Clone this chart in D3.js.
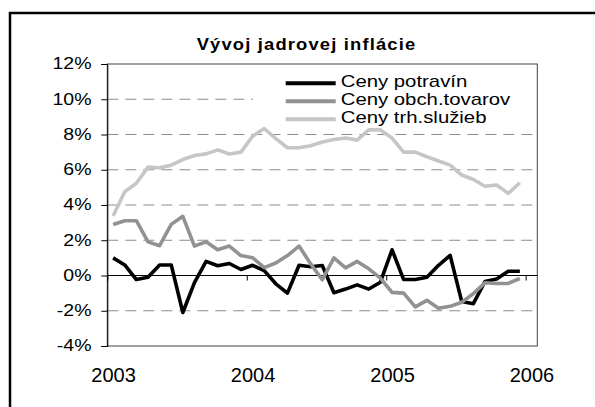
<!DOCTYPE html>
<html><head><meta charset="utf-8">
<script src="https://cdn.jsdelivr.net/npm/d3@7"></script>
<style>
html,body{margin:0;padding:0;background:#fff;}
svg{display:block;font-family:Arial,"Liberation Sans",sans-serif;}
</style></head>
<body><svg id="c" width="595" height="407"></svg>
<script>
const title = "Vývoj jadrovej inflácie";
const years = ["2003","2004","2005","2006"];
const seriesNames = ["Ceny potravín","Ceny obch.tovarov","Ceny trh.služieb"];
const yTicks = [-4,-2,0,2,4,6,8,10,12];
const food = [1.0,0.6,-0.23,-0.1,0.6,0.6,-2.1,-0.4,0.8,0.55,0.68,0.34,
  0.58,0.28,-0.47,-1.0,0.58,0.5,0.57,-0.98,-0.77,-0.53,-0.77,-0.38,
  1.46,-0.23,-0.23,-0.1,0.58,1.14,-1.48,-1.6,-0.34,-0.2,0.24,0.24];
const goods = [2.89,3.11,3.11,1.91,1.69,2.9,3.36,1.67,1.91,1.46,1.67,1.13,
  1.01,0.45,0.71,1.13,1.67,0.66,-0.24,1.0,0.43,0.8,0.38,-0.15,
  -0.96,-1.0,-1.78,-1.41,-1.86,-1.75,-1.52,-1.03,-0.41,-0.45,-0.45,-0.17];
const services = [3.38,4.75,5.23,6.15,6.11,6.26,6.58,6.81,6.9,7.13,6.89,7.0,
  7.9,8.34,7.77,7.25,7.25,7.36,7.57,7.72,7.8,7.68,8.26,8.26,
  7.8,7.0,7.0,6.74,6.5,6.26,5.7,5.45,5.06,5.13,4.66,5.26];
const colors = ["#000000","#929292","#c6c6c6"];

const svg = d3.select("#c");
const L = 107.3, R = 537.3, T = 64, B = 346;
const nCat = 37;
const x = d3.scaleLinear().domain([0, nCat]).range([L, R]);
const y = d3.scaleLinear().domain([-4, 12]).range([B, T]);

// outer frame
svg.append("rect").attr("x",10).attr("y",13).attr("width",620).attr("height",440)
  .attr("fill","none").attr("stroke","#000").attr("stroke-width",2.5);

// title
svg.append("text").attr("transform","translate(306.5,50) scale(1.15,1)")
  .attr("text-anchor","middle").attr("font-weight","bold").attr("font-size",16)
  .attr("letter-spacing",1).text(title);

// gridlines
svg.append("g").selectAll("line").data(yTicks.filter(v => v!==0 && v!==12 && v!==-4))
  .join("line").attr("x1",L).attr("x2",R).attr("y1",d=>y(d)).attr("y2",d=>y(d))
  .attr("stroke","#8c8c8c").attr("stroke-width",1).attr("stroke-dasharray","11,7");

// plot border
svg.append("rect").attr("x",L).attr("y",T).attr("width",R-L).attr("height",B-T)
  .attr("fill","none").attr("stroke","#404040").attr("stroke-width",1);

// legend background
svg.append("rect").attr("x",253).attr("y",70).attr("width",283).attr("height",57).attr("fill","#fff");

// y axis
const ya = svg.append("g").attr("transform",`translate(${L},0)`)
  .call(d3.axisLeft(y).tickValues(yTicks).tickSize(6).tickFormat(d => d + "%"));
ya.select(".domain").attr("stroke","#000");
ya.selectAll(".tick line").attr("stroke","#000");
ya.selectAll(".tick text").attr("x",null).attr("dy",null).attr("y",null)
  .attr("transform","translate(-15.8,4.8) scale(1.22,1)")
  .attr("font-size",16).attr("font-family","Arial,'Liberation Sans',sans-serif")
  .attr("fill","#000").attr("text-anchor","end");

// x zero axis with ticks
const xa = svg.append("g").attr("transform",`translate(0,${y(0)})`)
  .call(d3.axisBottom(x).tickValues([0,12,24,36]).tickSize(5).tickFormat(""));
xa.select(".domain").attr("stroke","#000").attr("d",`M${L},0H${R}`);
xa.selectAll(".tick line").attr("stroke","#000");

// x labels
const xl = svg.append("g").attr("transform","translate(0,382.3)")
  .call(d3.axisBottom(x).tickValues([0.5,12.5,24.5,36.5]).tickSize(0)
    .tickFormat((d,i) => years[i]));
xl.select(".domain").remove();
xl.selectAll(".tick text").attr("y",0).attr("dy",null).attr("font-size",20)
  .attr("font-family","Arial,'Liberation Sans',sans-serif").attr("fill","#000");

// series
const line = d3.line().x((d,i) => x(i + 0.5)).y(d => y(d)).curve(d3.curveLinear);
[food, goods, services].forEach((s, k) => {
  svg.append("path").datum(s).attr("d", line).attr("fill","none")
    .attr("stroke", colors[k]).attr("stroke-width", 3.6)
    .attr("stroke-linejoin","round").attr("stroke-linecap","butt");
});

// legend
const lg = svg.append("g");
seriesNames.forEach((n, k) => {
  const ly = 83.3 + k * 18;
  lg.append("line").attr("x1",285.7).attr("x2",335.7).attr("y1",ly).attr("y2",ly)
    .attr("stroke",colors[k]).attr("stroke-width",4);
  lg.append("text").attr("transform",`translate(340.7,${ly+3.4}) scale(1.1,0.86)`)
    .attr("font-size",18.5).attr("fill","#000").text(n);
});
</script></body></html>
